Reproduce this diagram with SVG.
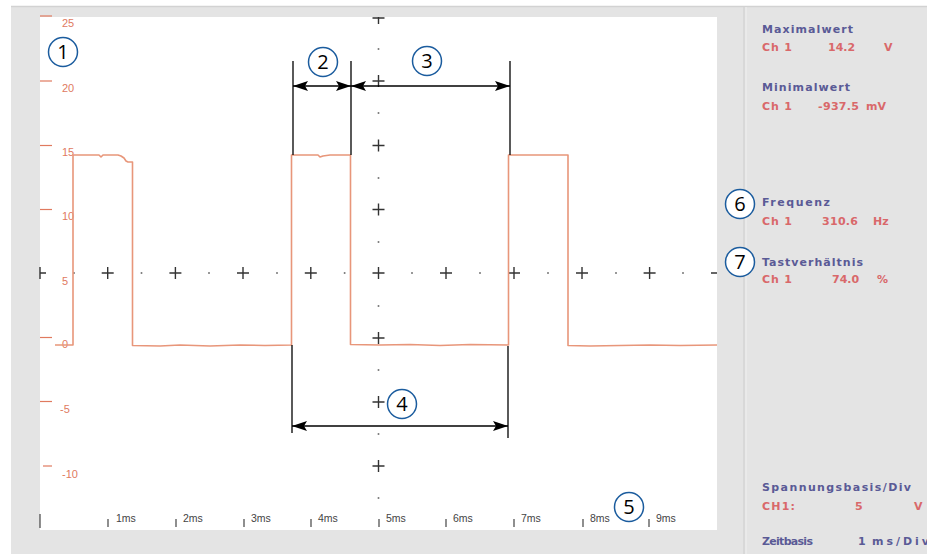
<svg xmlns="http://www.w3.org/2000/svg" width="937" height="554" viewBox="0 0 937 554">
<defs>
<style>
.ylab{font-family:"Liberation Sans",Arial,sans-serif;font-size:11px;fill:#e07a5f}
.ytick{stroke:#e07a5f;stroke-width:1.2}
.xlab{font-family:"Liberation Sans",Arial,sans-serif;font-size:10.5px;fill:#444}
.xtick{stroke:#444;stroke-width:1.2}
.cross{stroke:#333;stroke-width:1.4;fill:none}
.dot{fill:#777}
.trace{fill:none;stroke:#e8967a;stroke-width:1.6;stroke-linejoin:round}
.dim{stroke:#000;stroke-width:1.3;fill:none}
.arrow{stroke:#000;stroke-width:1.3;fill:none;marker-start:url(#ah);marker-end:url(#ah)}
.bub{fill:#fff;stroke:#1b5c9e;stroke-width:1.5}
.num{font-family:"Open Sans","Liberation Sans",sans-serif;font-size:20px;fill:#000;text-anchor:middle}
.ttl{font-family:"DejaVu Sans",Verdana,sans-serif;font-size:11px;font-weight:bold;fill:#5a5a96}
.val{font-family:"DejaVu Sans",Verdana,sans-serif;font-size:11px;font-weight:bold;fill:#d9686a}
</style>
<marker id="ah" viewBox="0 0 15 10" refX="15" refY="5" markerWidth="15" markerHeight="10" markerUnits="userSpaceOnUse" orient="auto-start-reverse">
<path d="M0,0 L15,5 L0,10 L3,5 z" fill="#000"/>
</marker>
</defs>

<!-- frame -->
<rect x="0" y="0" width="937" height="554" fill="#fff"/>
<rect x="11" y="6" width="916" height="548" fill="#e4e4e4"/>
<line x1="11" y1="6.5" x2="927" y2="6.5" stroke="#d2d2d2" stroke-width="1.5"/>
<rect x="40" y="17" width="677" height="513" fill="#fff"/>
<line x1="744" y1="7" x2="744" y2="554" stroke="#d4d4d4" stroke-width="1.5"/>
<line x1="746" y1="7" x2="746" y2="554" stroke="#efefef" stroke-width="1"/>

<!-- y axis -->
<g id="y-axis">
<line class="ytick" x1="40" y1="16" x2="52" y2="16"/>
<line class="ytick" x1="40" y1="81" x2="52" y2="81"/>
<line class="ytick" x1="40" y1="145.5" x2="52" y2="145.5"/>
<line class="ytick" x1="40" y1="209.5" x2="52" y2="209.5"/>
<line class="ytick" x1="40" y1="337.5" x2="52" y2="337.5"/>
<line class="ytick" x1="40" y1="401.5" x2="52" y2="401.5"/>
<line class="ytick" x1="43" y1="466" x2="52" y2="466"/>
<text class="ylab" x="62" y="27">25</text>
<text class="ylab" x="62" y="92">20</text>
<text class="ylab" x="62" y="156">15</text>
<text class="ylab" x="62" y="220">10</text>
<text class="ylab" x="62" y="285">5</text>
<text class="ylab" x="62" y="348">0</text>
<text class="ylab" x="60" y="413">-5</text>
<text class="ylab" x="62" y="478">-10</text>
</g>

<!-- x axis -->
<g id="x-axis">
<line class="xtick" x1="40" y1="514" x2="40" y2="528"/>
<line class="xtick" x1="108" y1="519" x2="108" y2="527"/>
<line class="xtick" x1="176" y1="519" x2="176" y2="527"/>
<line class="xtick" x1="244" y1="519" x2="244" y2="527"/>
<line class="xtick" x1="311" y1="519" x2="311" y2="527"/>
<line class="xtick" x1="379" y1="519" x2="379" y2="527"/>
<line class="xtick" x1="446" y1="519" x2="446" y2="527"/>
<line class="xtick" x1="514" y1="519" x2="514" y2="527"/>
<line class="xtick" x1="583" y1="519" x2="583" y2="527"/>
<line class="xtick" x1="649" y1="519" x2="649" y2="527"/>
<text class="xlab" x="116" y="522">1ms</text>
<text class="xlab" x="183" y="522">2ms</text>
<text class="xlab" x="251" y="522">3ms</text>
<text class="xlab" x="318" y="522">4ms</text>
<text class="xlab" x="386" y="522">5ms</text>
<text class="xlab" x="453" y="522">6ms</text>
<text class="xlab" x="521" y="522">7ms</text>
<text class="xlab" x="590" y="522">8ms</text>
<text class="xlab" x="656" y="522">9ms</text>
</g>

<!-- graticule -->
<g id="graticule">
<path class="cross" d="M40,267V279M40,273H46 M101.7,273H113.7M107.7,267V279 M169.4,273H181.4M175.4,267V279 M237,273H249M243,267V279 M304.8,273H316.8M310.8,267V279 M372.5,273H384.5M378.5,267V279 M440,273H452M446,267V279 M508,273H520M514,267V279 M576,273H588M582,267V279 M643.6,273H655.6M649.6,267V279 M711,273H717"/>
<path class="cross" d="M372.5,18H384.5M378.5,17V24 M372.5,81H384.5M378.5,75V87 M372.5,145.5H384.5M378.5,139.5V151.5 M372.5,209.5H384.5M378.5,203.5V215.5 M372.5,338H384.5M378.5,332V344 M372.5,402H384.5M378.5,396V408 M372.5,466H384.5M378.5,460V472"/>
<g class="dot">
<circle cx="74" cy="273" r="1"/><circle cx="141.5" cy="273" r="1"/><circle cx="209" cy="273" r="1"/><circle cx="277" cy="273" r="1"/><circle cx="344.6" cy="273" r="1"/><circle cx="412" cy="273" r="1"/><circle cx="480" cy="273" r="1"/><circle cx="548" cy="273" r="1"/><circle cx="616" cy="273" r="1"/><circle cx="683" cy="273" r="1"/>
<circle cx="378.5" cy="49" r="1"/><circle cx="378.5" cy="113" r="1"/><circle cx="378.5" cy="178" r="1"/><circle cx="378.5" cy="242" r="1"/><circle cx="378.5" cy="306" r="1"/><circle cx="378.5" cy="370" r="1"/><circle cx="378.5" cy="434" r="1"/><circle cx="378.5" cy="498" r="1"/>
</g>
</g>

<!-- signal trace -->
<path id="trace" class="trace" d="M55,345 H73 V155 H99 L101,157 L103,155 H118 L121,156 L124,158 L126,161 L128,162 H132.5 V345.5 L160,346 L180,345 L210,346 L240,345 L265,345.5 L291.5,345 V155 H318 L320,157 L323,156 L330,155 H350.5 V344.5 L380,345 L410,344.5 L440,345.5 L470,344.5 L508.5,345 V155 H568 V345.5 L590,346 L620,345.5 L650,345 L680,345.5 L717,345"/>

<!-- connectors (dimension lines) -->
<g id="connectors">
<line class="dim" x1="293" y1="61" x2="293" y2="155"/>
<line class="dim" x1="351" y1="61" x2="351" y2="155"/>
<line class="dim" x1="510" y1="61" x2="510" y2="155"/>
<line class="dim" x1="292" y1="345" x2="292" y2="433"/>
<line class="dim" x1="508" y1="346" x2="508" y2="438"/>
<line class="arrow" x1="293" y1="86" x2="351" y2="86"/>
<line class="arrow" x1="351" y1="86" x2="510" y2="86"/>
<line class="arrow" x1="292" y1="426" x2="508" y2="426"/>
</g>

<!-- callouts -->
<g id="n1"><circle class="bub" cx="63" cy="52" r="14.5"/><text class="num" x="63" y="59">1</text></g>
<g id="n2"><circle class="bub" cx="323" cy="62" r="14.5"/><text class="num" x="323" y="69">2</text></g>
<g id="n3"><circle class="bub" cx="427" cy="61" r="14.5"/><text class="num" x="427" y="68">3</text></g>
<g id="n4"><circle class="bub" cx="402" cy="404" r="14.5"/><text class="num" x="402" y="411">4</text></g>
<g id="n5"><circle class="bub" cx="629" cy="507" r="14.5"/><text class="num" x="629" y="514">5</text></g>
<g id="n6"><circle class="bub" cx="740" cy="204" r="14.5"/><text class="num" x="740" y="211">6</text></g>
<g id="n7"><circle class="bub" cx="740" cy="262" r="14.5"/><text class="num" x="740" y="269">7</text></g>

<!-- readout panel -->
<g id="readouts">
<text class="ttl" x="762" y="33" textLength="91" lengthAdjust="spacing">Maximalwert</text>
<text class="val" x="762" y="51" textLength="30" lengthAdjust="spacing">Ch 1</text>
<text class="val" x="828" y="51">14.2</text>
<text class="val" x="884" y="51">V</text>
<text class="ttl" x="762" y="91" textLength="88" lengthAdjust="spacing">Minimalwert</text>
<text class="val" x="762" y="110" textLength="30" lengthAdjust="spacing">Ch 1</text>
<text class="val" x="818" y="110" textLength="41" lengthAdjust="spacing">-937.5</text>
<text class="val" x="866" y="110">mV</text>
<text class="ttl" x="762" y="206" textLength="68" lengthAdjust="spacing">Frequenz</text>
<text class="val" x="762" y="225" textLength="30" lengthAdjust="spacing">Ch 1</text>
<text class="val" x="822" y="225" textLength="36" lengthAdjust="spacing">310.6</text>
<text class="val" x="873" y="225">Hz</text>
<text class="ttl" x="762" y="266" textLength="101" lengthAdjust="spacing">Tastverhältnis</text>
<text class="val" x="762" y="283" textLength="30" lengthAdjust="spacing">Ch 1</text>
<text class="val" x="832" y="283">74.0</text>
<text class="val" x="877" y="283">%</text>
<text class="ttl" x="762" y="491" textLength="149" lengthAdjust="spacing">Spannungsbasis/Div</text>
<text class="val" x="762" y="510" textLength="33" lengthAdjust="spacing">CH1:</text>
<text class="val" x="855" y="510">5</text>
<text class="val" x="914" y="510">V</text>
<text class="ttl" x="762" y="545" textLength="51" lengthAdjust="spacing">Zeitbasis</text>
<text class="ttl" x="858" y="545">1</text>
<text class="ttl" x="872" y="545" textLength="57" lengthAdjust="spacing">ms/Div</text>
</g>
<rect x="927" y="0" width="10" height="554" fill="#fff"/>
</svg>
